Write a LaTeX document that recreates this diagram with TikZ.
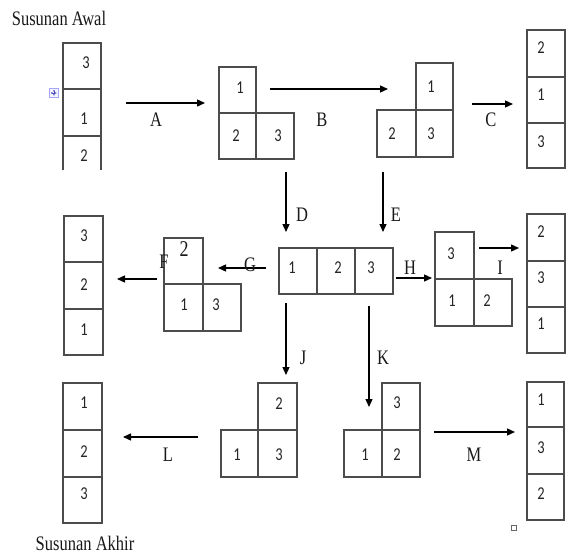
\documentclass[tikz,border=0pt]{standalone}
\usepackage{fontspec}
\usepackage{graphicx}
\setmainfont{Liberation Serif}
\newfontfamily\digfont{Carlito}
\usetikzlibrary{arrows.meta}
\newcommand\vst[1]{\scalebox{1}[1.25]{#1}}
\newcommand\cellbox[5]{\node[cellbox, minimum width={(#4-#2)*1pt}, minimum height={(#5-#3)*1pt}] (#1) at ({(#2+#4)/2},{(#3+#5)/2}) {};}
\newcommand\digit[4]{\node[digtxt] (#1) at (#2,#3) {\vst{#4}};}
\newcommand\lab[4]{\node[lbltxt] (#1) at (#2,#3) {\vst{#4}};}
\tikzset{
  cellbox/.style={draw=black!70, line width=1.2pt, inner sep=0pt, outer sep=0pt, rectangle},
  digtxt/.style={font=\digfont\fontsize{14.5}{14.5}\selectfont, text=black!85, inner sep=0pt},
  lbltxt/.style={font=\fontsize{16.5}{16.5}\selectfont, text=black!90, inner sep=0pt},
  arr/.style={line width=1.3pt, -{Triangle[length=8pt,width=7pt]}},
  colline/.style={draw=black!70, line width=1.2pt}
}
\begin{document}
\begin{tikzpicture}[x=1pt,y=-1pt]
\useasboundingbox[fill=white] (0,0) rectangle (566,555);
% titles
\node[lbltxt] (awal) at (59,18) {\vst{Susunan Awal}};
\node[lbltxt] (akhir) at (85,543) {\vst{Susunan Akhir}};
% --- top-left column (open at bottom)
\coordinate (tl1) at (63,43); \coordinate (tl2) at (101,43);
\coordinate (tl3) at (63,170); \coordinate (tl4) at (101,170);
\draw[colline] (tl3) -- (tl1) -- (tl2) -- (tl4);
\coordinate (tlm1) at (63,89); \coordinate (tlm2) at (101,89);
\coordinate (tlm3) at (63,136); \coordinate (tlm4) at (101,136);
\draw[colline] (tlm1) -- (tlm2);
\draw[colline] (tlm3) -- (tlm4);
\digit{d1}{86}{63}{3}
\digit{d2}{84}{119}{1}
\digit{d3}{84}{156}{2}
% table move handle
\node[draw=blue!35, fill=blue!4, line width=0.5pt, minimum size=9pt, inner sep=0pt] (handle) at (54,93) {};
\draw[blue!60!black!70, line width=0.6pt, {Latex[length=1.5pt,width=2pt]}-{Latex[length=1.5pt,width=2pt]}] (handle.west) ++(1.5,0) -- ++(6,0);
\draw[blue!60!black!70, line width=0.6pt, {Latex[length=1.5pt,width=2pt]}-{Latex[length=1.5pt,width=2pt]}] (handle.north) ++(0,1.5) -- ++(0,6);
% arrow A
\coordinate (a1) at (126,103); \coordinate (a2) at (205,103);
\draw[arr] (a1) -- (a2);
\lab{lA}{156}{120}{A}
% L1
\cellbox{p1t}{219}{67}{256}{113}
\cellbox{p1a}{219}{113}{256}{159}
\cellbox{p1b}{256}{113}{294}{159}
\digit{n11}{240}{88}{1}
\digit{n12}{236}{136}{2}
\digit{n13}{278}{136}{3}
% arrow B
\coordinate (b1) at (270,89); \coordinate (b2) at (388,89);
\draw[arr] (b1) -- (b2);
\lab{lB}{322}{120}{B}
% L2
\cellbox{p2t}{416}{63}{453}{110}
\cellbox{p2a}{377}{110}{416}{157}
\cellbox{p2b}{416}{110}{453}{157}
\digit{n21}{431}{87}{1}
\digit{n22}{392}{134}{2}
\digit{n23}{431}{134}{3}
% arrow C
\coordinate (c1) at (472,104); \coordinate (c2) at (513,104);
\draw[arr] (c1) -- (c2);
\lab{lC}{491}{120}{C}
% top right column
\cellbox{tr1}{527}{30}{565}{77}
\cellbox{tr2}{527}{77}{565}{123}
\cellbox{tr3}{527}{123}{565}{168}
\digit{ntr1}{541}{48}{2}
\digit{ntr2}{541}{95}{1}
\digit{ntr3}{541}{142}{3}
% arrows D, E
\coordinate (dd1) at (286,172); \coordinate (dd2) at (286,232);
\draw[arr] (dd1) -- (dd2);
\lab{lD}{302}{215}{D}
\coordinate (e1) at (383,172); \coordinate (e2) at (383,232);
\draw[arr] (e1) -- (e2);
\lab{lE}{396}{215}{E}
% middle row
\cellbox{m1}{279}{248}{317}{294}
\cellbox{m2}{317}{248}{355}{294}
\cellbox{m3}{355}{248}{393}{294}
\digit{nm1}{292}{268}{1}
\digit{nm2}{338}{268}{2}
\digit{nm3}{371}{268}{3}
% arrow G
\coordinate (g1) at (266,268); \coordinate (g2) at (218,268);
\draw[arr] (g1) -- (g2);
\lab{lG}{250}{265}{G}
% L3 (F shape)
\cellbox{p3t}{164}{238}{203}{284}
\cellbox{p3a}{164}{284}{203}{331}
\cellbox{p3b}{203}{284}{241}{331}
\node[lbltxt, font=\fontsize{18}{18}\selectfont] (n31) at (184,249) {\vst{2}};
\digit{n32}{184}{305}{1}
\digit{n33}{216}{305}{3}
% arrow F
\coordinate (f1) at (157,279); \coordinate (f2) at (117,279);
\draw[arr] (f1) -- (f2);
\lab{lF}{164}{262}{F}
% middle-left column
\cellbox{ml1}{64}{216}{103}{262}
\cellbox{ml2}{64}{262}{103}{309}
\cellbox{ml3}{64}{309}{103}{355}
\digit{nml1}{84}{236}{3}
\digit{nml2}{84}{285}{2}
\digit{nml3}{84}{330}{1}
% arrow H
\coordinate (h1) at (396,278); \coordinate (h2) at (432,278);
\draw[arr] (h1) -- (h2);
\lab{lH}{410}{268}{H}
% L4
\cellbox{p4t}{435}{232}{474}{279}
\cellbox{p4a}{435}{279}{474}{326}
\cellbox{p4b}{474}{279}{512}{326}
\digit{n41}{451}{254}{3}
\digit{n42}{452}{301}{1}
\digit{n43}{487}{301}{2}
% arrow I
\coordinate (i1) at (479,248); \coordinate (i2) at (519,248);
\draw[arr] (i1) -- (i2);
\lab{lI}{500}{268}{I}
% middle-right column
\cellbox{mr1}{527}{214}{565}{261}
\cellbox{mr2}{527}{261}{565}{307}
\cellbox{mr3}{527}{307}{565}{353}
\digit{nmr1}{541}{232}{2}
\digit{nmr2}{541}{278}{3}
\digit{nmr3}{541}{324}{1}
% arrows J, K
\coordinate (j1) at (286,303); \coordinate (j2) at (286,375);
\draw[arr] (j1) -- (j2);
\lab{lJ}{303}{358}{J}
\coordinate (k1) at (369,306); \coordinate (k2) at (369,407);
\draw[arr] (k1) -- (k2);
\lab{lK}{383}{358}{K}
% L5
\cellbox{p5t}{258}{383}{297}{430}
\cellbox{p5a}{221}{430}{258}{477}
\cellbox{p5b}{258}{430}{297}{477}
\digit{n51}{279}{404}{2}
\digit{n52}{237}{455}{1}
\digit{n53}{279}{455}{3}
% L6
\cellbox{p6t}{382}{383}{420}{430}
\cellbox{p6a}{344}{430}{382}{477}
\cellbox{p6b}{382}{430}{420}{477}
\digit{n61}{397}{403}{3}
\digit{n62}{365}{455}{1}
\digit{n63}{397}{455}{2}
% arrow L
\coordinate (l1) at (198,437); \coordinate (l2) at (123,437);
\draw[arr] (l1) -- (l2);
\lab{lL}{168}{455}{L}
% arrow M
\coordinate (mm1) at (434,432); \coordinate (mm2) at (515,432);
\draw[arr] (mm1) -- (mm2);
\lab{lM}{474}{455}{M}
% bottom-left column
\cellbox{bl1}{63}{383}{102}{430}
\cellbox{bl2}{63}{430}{102}{477}
\cellbox{bl3}{63}{477}{102}{523}
\digit{nbl1}{84}{403}{1}
\digit{nbl2}{84}{452}{2}
\digit{nbl3}{84}{494}{3}
% bottom-right column
\cellbox{br1}{527}{382}{564}{427}
\cellbox{br2}{527}{427}{564}{474}
\cellbox{br3}{527}{474}{564}{520}
\digit{nbr1}{541}{400}{1}
\digit{nbr2}{541}{448}{3}
\digit{nbr3}{541}{494}{2}
% small paragraph mark square
\node[draw=black!60, line width=0.5pt, minimum size=5pt, inner sep=0pt] (sq) at (514,528) {};
\end{tikzpicture}
\end{document}
